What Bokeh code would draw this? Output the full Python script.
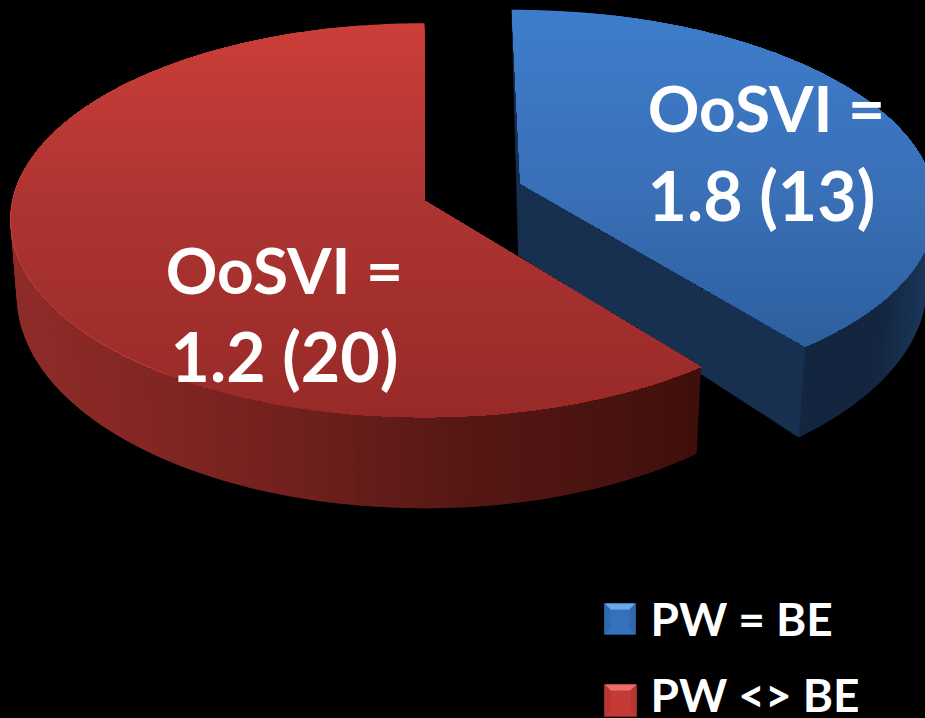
import math
from bokeh.plotting import figure
from bokeh.embed import file_html
from bokeh.resources import INLINE
from bokeh.core.properties import value

series = ["PW = BE", "PW <> BE"]
counts = [13, 20]
oosvi = [1.8, 1.2]
line_one = ["OoSVI =", "OoSVI ="]
line_two = [f"{oosvi[0]} ({counts[0]})", f"{oosvi[1]} ({counts[1]})"]

W, H = 925, 718
RX, RY, TILT = 414, 197, 0.1
FONT = value("Lato")

p = figure(width=W, height=H, x_range=(0, W), y_range=(H, 0), toolbar_location=None,
           output_backend="svg", background_fill_color="#000000", border_fill_color="#000000",
           outline_line_color=None, min_border=0)
p.axis.visible = False
p.grid.visible = False


def hexmix(stops, t):
    t = max(stops[0][0], min(stops[-1][0], t))
    for (a, ca), (b, cb) in zip(stops, stops[1:]):
        if t <= b:
            f = (t - a) / (b - a) if b > a else 0
            rgb = [int(round(int(ca[i:i + 2], 16) * (1 - f) + int(cb[i:i + 2], 16) * f)) for i in (1, 3, 5)]
            return "#%02x%02x%02x" % tuple(rgb)
    return stops[-1][1]


class Wedge:
    def __init__(self, ax, ay, shear, dx, ry_scale=1.0, depth_slope=16):
        self.ax, self.ay, self.shear, self.dx, self.ry = ax, ay, shear, dx, RY * ry_scale
        self.depth_slope = depth_slope

    def top(self, deg):
        t = math.radians(deg)
        u, v = math.sin(t), math.cos(t)
        den = 1 + TILT * v
        X = u * math.sqrt(1 - TILT ** 2) / den
        Y = (v + TILT) / den
        y = self.ay + self.ry * (TILT - Y)
        x = self.ax + RX * X + self.shear * (y - self.ay)
        return x, y, Y

    def bottom(self, deg):
        x, y, Y = self.top(deg)
        return self.ax + (x - self.ax) * 0.985 + self.dx, y + 75 - self.depth_slope * Y

    def apex_bottom(self):
        return self.ax + self.dx, self.ay + 72


def clip_below(poly, cut):
    out = []
    for i, a in enumerate(poly):
        b = poly[(i + 1) % len(poly)]
        if a[1] >= cut:
            out.append(a)
        if (a[1] >= cut) != (b[1] >= cut):
            out.append((a[0] + (b[0] - a[0]) * (cut - a[1]) / (b[1] - a[1]), cut))
    return out


def draw_face(poly, stops, step=3):
    # painted from the top down: each band is everything below its top edge
    ys = [q[1] for q in poly]
    xs_all, ys_all, cols = [], [], []
    y = min(ys)
    while y < max(ys):
        band = clip_below(poly, y) if y > min(ys) else poly
        if band:
            xs_all.append([q[0] for q in band])
            ys_all.append([q[1] for q in band])
            cols.append(hexmix(stops, y + step / 2))
        y += step
    p.patches(xs_all, ys_all, fill_color=cols, line_color=None)


def draw_wall(w, d0, d1, stops):
    xs_all, ys_all, cols = [], [], []
    n = int(abs(d1 - d0) / 1.0)
    for i in range(n):
        a = d0 + (d1 - d0) * i / n
        b = d0 + (d1 - d0) * min(i + 2, n) / n  # overlap the next strip, so no seam shows
        ta, tb = w.top(a), w.top(b)
        ba, bb = w.bottom(a), w.bottom(b)
        xs_all.append([ta[0], tb[0], bb[0], ba[0]])
        ys_all.append([ta[1], tb[1], bb[1], ba[1]])
        cols.append(hexmix(stops, (ta[0] + tb[0]) / 2))
    p.patches(xs_all, ys_all, fill_color=cols, line_color=None)


total = sum(counts)
split = 360 * counts[0] / total

# Blue slice
blue = Wedge(520, 183, 0.05, -2, 0.98, 21)
blue_wall = [(520, "#1a3252"), (800, "#14263f"), (880, "#14263f"), (925, "#1a3558")]
draw_wall(blue, 20, split, blue_wall)
e_top, e_bot, a_bot = blue.top(split), blue.bottom(split), blue.apex_bottom()
p.patch([blue.ax, e_top[0], e_bot[0], a_bot[0]], [blue.ay, e_top[1], e_bot[1], a_bot[1]],
        fill_color="#18304f", line_color="#18304f", line_width=0.6)
s_top = blue.top(0)
p.patch([s_top[0], blue.ax, a_bot[0]], [s_top[1], blue.ay, a_bot[1]],
        fill_color="#18304f", line_color="#18304f", line_width=0.6)
blue_face = [(blue.ax, blue.ay)] + [blue.top(split * i / 160)[:2] for i in range(161)]
draw_face(blue_face, [(10, "#3e7dcb"), (190, "#3a70b7"), (347, "#2d5f9e")])

# Red slice
red = Wedge(424, 200, 0.0, 0)
red_wall = [(10, "#8f2c29"), (130, "#842724"), (300, "#6f201d"), (450, "#571815"),
            (600, "#4a1310"), (700, "#3e0f0c")]
draw_wall(red, split, 300, red_wall)
red_face = [(red.ax, red.ay)] + [red.top(split + (360 - split) * i / 220)[:2] for i in range(221)]
draw_face(red_face, [(22, "#cc3e39"), (200, "#ad3532"), (417, "#982a28")])
rim = [red.top(215 + (278 - 215) * i / 60)[:2] for i in range(61)]
p.line([q[0] for q in rim], [q[1] for q in rim], line_color="#c9443f", line_width=1, line_alpha=0.8)

# Slice labels
p.text(x=[766, 284], y=[107, 269], text=line_one, text_align="center", text_baseline="alphabetic",
       text_color="#ffffff", text_font=FONT, text_font_style="bold", text_font_size="64px")
p.text(x=[761, 284], y=[194, 355], text=line_two, text_align="center", text_baseline="alphabetic",
       text_color="#ffffff", text_font=FONT, text_font_style="bold", text_font_size="68px")


# Legend
def swatch(x, y, s, face, light, mid, dark):
    b = 6
    p.patch([x, x + s, x + s, x], [y, y, y + s, y + s], fill_color=face, line_color=dark, line_width=1)
    p.patch([x, x + s, x + s - b, x + b], [y, y, y + b, y + b], fill_color=light, line_color=None)
    p.patch([x, x + b, x + b, x], [y, y + b, y + s - b, y + s], fill_color=mid, line_color=None)
    p.patch([x + s, x + s - b, x + s - b, x + s], [y, y + b, y + s - b, y + s], fill_color=mid, line_color=None)


swatch(604, 603, 31, "#3572bd", "#6ba6ea", "#3069b0", "#234a7c")
swatch(604, 684, 32, "#c53a37", "#ea6f6b", "#b83430", "#802421")
p.text(x=[650, 650], y=[618, 694], text=series, text_align="left", text_baseline="alphabetic",
       text_color="#ffffff", text_font=FONT, text_font_style="bold", text_font_size="46px")

html = file_html(p, INLINE)
html = html.replace("<head>", "<head><style>html,body{margin:0;padding:0;background:#000;overflow:hidden}</style>", 1)
open("out.html", "w").write(html)
